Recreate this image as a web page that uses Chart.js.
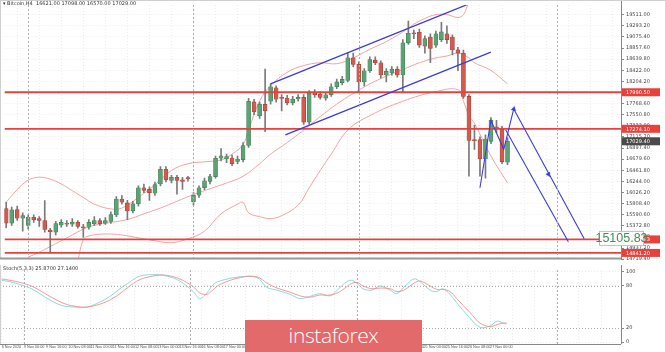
<!DOCTYPE html>
<html><head><meta charset="utf-8">
<script src="https://cdn.jsdelivr.net/npm/chart.js@4.4.0/dist/chart.umd.min.js"></script>
<style>
html,body{margin:0;padding:0;background:#fff;width:665px;height:352px;overflow:hidden}
#main{position:absolute;left:0;top:0}
#stoch{position:absolute;left:0;top:265px}
#logo{position:absolute;left:245px;top:320px;width:177px;height:32px;background:#e26a6a;color:#fff;font:300 21px "Open Sans",sans-serif;line-height:31px;text-align:center;letter-spacing:-0.4px}
</style></head><body>
<canvas id="main" width="665" height="264"></canvas>
<canvas id="stoch" width="665" height="87"></canvas>
<div id="logo">instaforex</div>
<script>
// ---------- DATA ----------
const opens  = [15708,15426,15690,15520,15382,15539,15514,15476,15288,15250,15388,15426,15407,15439,15350,15344,15414,15476,15426,15458,15584,15897,15822,15665,15803,16118,16086,16010,16193,16482,16263,16325,16274,16306,15848,15972,16118,16244,16338,16697,16683,16702,16633,16670,16947,17802,17532,17753,17815,18079,17877,17877,17783,17858,17890,17406,17990,17953,17877,17941,18098,18179,18224,18664,18537,18193,18413,18620,18569,18330,18368,18443,18330,18960,19148,19167,18896,19073,18915,19022,19135,19073,18820,18758,17909,17047,17061,16683,17029,17300,17262,16621];
const highs  = [15835,15740,15759,15627,15590,15590,15552,15867,15325,15458,15495,15476,15514,15476,15401,15495,15552,15514,15533,15646,15948,15967,15872,15854,16155,16193,16137,16231,16533,16533,16363,16363,16325,16344,16023,16155,16306,16382,16740,16885,16778,16759,16740,17004,17872,17853,17796,18443,18154,18117,17947,17928,17909,17947,17947,18022,18041,18004,17985,18154,18249,18305,18758,18758,18588,18456,18683,18683,18607,18456,18494,18494,19022,19386,19211,19230,19097,19135,19192,19362,19292,19116,18871,18815,17947,17344,17117,17155,17494,17438,17325,17098];
const lows   = [15331,15382,15476,15269,15307,15439,15363,15250,14835,15194,15344,15363,15363,15325,15143,15307,15382,15382,15401,15420,15552,15797,15495,15627,15759,16023,15872,15967,16155,16231,16212,15991,16086,16250,15778,15929,16080,16193,16306,16646,16608,16551,16589,16627,16910,17551,17476,17217,17758,17796,17626,17740,17740,17815,17362,17362,17890,17853,17834,17909,18060,18136,18193,18494,18004,18117,18381,18532,18268,18193,18324,18287,18004,18928,19041,18871,18758,18569,18871,18984,18947,18720,18413,17872,16344,16872,16344,16306,16985,17193,16589,16570];
const closes = [15426,15684,15520,15571,15539,15490,15476,15301,15256,15414,15439,15407,15444,15363,15331,15439,15476,15414,15476,15595,15897,15835,15665,15803,16118,16067,16023,16180,16482,16274,16325,16263,16244,16297,15972,16118,16255,16338,16697,16746,16731,16589,16683,16947,17815,17608,17758,17626,18098,17853,17872,17783,17858,17890,17406,17972,17941,17890,17941,18098,18193,18243,18664,18537,18193,18413,18632,18569,18330,18400,18443,18330,18960,19148,19135,18915,19041,18852,19135,19173,19022,18820,18758,17909,17047,17042,16683,17074,17438,17291,16632,17029];

const bbUpIdx  = [0,2,4,6,8,10,12,14,16,19,21,24,27,30,33,36,39,41,43,44,46,48,51,54,57,60,63,66,69,72,74,76,78,80,82,83,84,86,88,91];
const bbUpper  = [15835,16080,16268,16325,16287,16193,16061,15929,15797,15703,15721,15929,16174,16457,16589,16627,16664,16778,16966,17249,17815,18117,18381,18513,18569,18550,18664,18833,18984,19173,19324,19437,19512,19512,19456,19512,19739,19984,20078,20116];
const bbMidIdx = [4,6,8,10,12,14,16,19,22,25,28,31,34,37,40,43,46,48,51,54,57,60,63,66,69,72,75,78,80,82,84,85,88,91];
const bbMid    = [14760,14854,14967,15080,15193,15307,15382,15439,15495,15608,15721,15854,15986,16099,16212,16344,16589,16778,17004,17249,17513,17758,17966,18154,18305,18437,18569,18664,18701,18758,18664,18569,18418,18154];
const bbLowIdx = [13,14,15,18,21,24,27,30,33,36,39,42,43,44,46,48,50,53,55,57,59,62,66,72,78,82,83,84,85,88,91];
const bbLower  = [14684,15099,15175,15212,15193,15137,15080,15043,15118,15269,15608,15797,15835,15627,15552,15514,15571,15778,16118,16457,16778,17249,17532,17815,18004,18041,17815,17532,17381,16740,16212];

const stochIdx    = [0,1.5,3.3,5.6,8.7,10.9,13.2,15.4,17.7,19.5,21.3,22.6,24.9,28,29.8,32.1,34.5,35.7,37,38,39.3,43,46,47.8,49.6,52,53.7,55.5,57.3,59.2,61,62.7,64,65.1,66.7,68.2,70,71.2,72.7,74.3,75.4,77.2,78.4,79.5,80.8,82,84.4,86.2,88,89.3,90.3,91];
const stochMain   = [88,86,82,75,60,52,50,50,57,65,76,83,94,96,94,87,72,62,70,81,87,93,92,78,74,68,62,65,69,66,78,88,84,76,74,80,74,69,80,90,86,74,72,76,68,56,34,21,23,30,27,25.87];
const stochSignal = [90,88,85,79,65,56,51,50,54,60,69,77,89,95,95,90,79,70,68,74,82,92,93,84,77,71,66,64,67,67,72,82,85,80,76,77,76,72,75,84,87,80,75,75,72,62,42,27,22,25,27,27.14];

const levels      = [17990.5,17274.1,15105.83,14841.2];
const levelLabels = ["17990.50","17274.10","15105.83","14841.20"];
const currentPrice = 17029.40;

const channelUpper = [[47.98,18154],[86,19810]];
const channelLower = [[50.68,17155],[87.98,18777]];
const zigzag       = [[86.0,16118],[87.98,17438],[90.32,16872],[92.13,17664]];
const arrowA       = [[92.13,17664],[104.92,15118]];
const arrowB       = [[90.68,17249],[102.04,15061]];
const arrowHeads   = [[92.13,17664,13],[98.43,16382,152]];

const yTicks = Array.from({length:23},(_,n)=>+(14719.4+217.8*n).toFixed(2));
const xTickIdx    = [0,4,8,12,16,20,24,28,32,36,40,44,48,52,56,60,64,68,72,76,80,84,88];
const xTickLabels = ["6 Nov 2020","9 Nov 00:00","9 Nov 16:00","10 Nov 08:00","11 Nov 00:00","11 Nov 16:00","12 Nov 08:00","13 Nov 00:00","13 Nov 16:00","16 Nov 08:00","17 Nov 00:00","17 Nov 16:00","18 Nov 08:00","19 Nov 00:00","19 Nov 16:00","20 Nov 08:00","23 Nov 00:00","23 Nov 16:00","24 Nov 08:00","25 Nov 00:00","25 Nov 16:00","26 Nov 08:00","27 Nov 00:00"];
const separators = [4,34,64,100];

// ---------- CHARTS ----------
const XMIN=-0.306, XMAX=111.6;
const GREEN='#5aa374', GREEN_B='#3e7f55', RED='#d25a4e', RED_B='#a83e34';
const BLUE='#3c3cdc', PINK='#f2a3a3';
const FONT='"DejaVu Sans", sans-serif';
const idx = opens.map((_,i)=>i);
const isUp = idx.map(i=>closes[i]>=opens[i]);
const pts = (a)=>a.map(p=>({x:p[0],y:p[1]}));
const zip = (ks,vs)=>ks.map((k,j)=>({x:k,y:vs[j]}));
const lineDs = (data,color,w,extra)=>Object.assign({type:'line',data,borderColor:color,borderWidth:w,pointRadius:0,tension:0,fill:false},extra||{});

const gridTicks = [];
for(let k=0;k<=XMAX;k+=4) gridTicks.push(k);

const overlayMain = {
  id:'overlayMain',
  afterDraw(chart){
    const {ctx,chartArea:a,scales:{x,y}}=chart;
    ctx.save();
    ctx.strokeStyle='#b0b0b0'; ctx.setLineDash([2,2]); ctx.lineWidth=1;
    separators.forEach(k=>{const px=Math.round(x.getPixelForValue(k))+0.5;ctx.beginPath();ctx.moveTo(px,a.top);ctx.lineTo(px,a.bottom);ctx.stroke();});
    ctx.setLineDash([]);
    ctx.strokeStyle='#888'; ctx.beginPath(); ctx.moveTo(a.right+0.5,0); ctx.lineTo(a.right+0.5,a.bottom); ctx.stroke();
    ctx.strokeStyle='#d0d0d0'; ctx.beginPath(); ctx.moveTo(0.5,0); ctx.lineTo(0.5,a.bottom); ctx.moveTo(0,0.5); ctx.lineTo(665,0.5); ctx.stroke();
    ctx.strokeStyle='#999'; ctx.lineWidth=2; ctx.beginPath(); ctx.moveTo(0,a.bottom-0.5); ctx.lineTo(a.right,a.bottom-0.5); ctx.stroke();
    ctx.font='5px '+FONT; ctx.textBaseline='middle';
    levels.forEach((v,i)=>{const py=y.getPixelForValue(v);ctx.fillStyle='#e8413c';ctx.fillRect(a.right+1,py-4,38,8);ctx.fillStyle='#fff';ctx.fillText(levelLabels[i],a.right+5,py+0.5);});
    const cp=y.getPixelForValue(currentPrice);
    ctx.fillStyle='#4a4a4a';ctx.fillRect(a.right+1,cp-4,38,8);ctx.fillStyle='#fff';ctx.fillText(currentPrice.toFixed(2),a.right+5,cp+0.5);
    const gy=y.getPixelForValue(levels[2]);
    ctx.fillStyle='rgba(255,255,255,0.95)';ctx.fillRect(a.right-22,gy-8.5,45,15);
    ctx.strokeStyle='#9fd3b0';ctx.lineWidth=1;ctx.strokeRect(a.right-21.5,gy-8,44,14);
    ctx.fillStyle='#3f8f5e';ctx.font='12.5px "Liberation Sans", sans-serif';ctx.textAlign='center';ctx.fillText(levelLabels[2],a.right+0.5,gy-0.5);
    ctx.textAlign='left';ctx.font='5px '+FONT;ctx.fillStyle='#333';
    ctx.fillText('\u25BE Bitcoin,H4  '+opens[opens.length-1].toFixed(2)+' '+highs[highs.length-1].toFixed(2)+' '+lows[lows.length-1].toFixed(2)+' '+closes[closes.length-1].toFixed(2),3,4);
    ctx.restore();
  }
};

new Chart(document.getElementById('main'),{
  type:'bar',
  data:{datasets:[
    lineDs(zip(bbUpIdx,bbUpper),PINK,1,{tension:0.4,order:6}),
    lineDs(zip(bbMidIdx,bbMid),PINK,1,{tension:0.4,order:6}),
    lineDs(zip(bbLowIdx,bbLower),PINK,1,{tension:0.4,order:6}),
    {type:'bar',data:idx.map(i=>({x:i,y:[lows[i],highs[i]]})),backgroundColor:'#7a7a7a',barThickness:1,grouped:false,order:5},
    {type:'bar',data:idx.map(i=>({x:i,y:[Math.min(opens[i],closes[i]),Math.max(opens[i],closes[i])]})),
      backgroundColor:idx.map(i=>isUp[i]?GREEN:RED),borderColor:idx.map(i=>isUp[i]?GREEN_B:RED_B),borderWidth:0.6,borderSkipped:false,barThickness:4,minBarLength:1,grouped:false,order:4},
    ...levels.map(v=>lineDs([{x:XMIN,y:v},{x:XMAX,y:v}],'#e8413c',1.8,{order:2})),
    lineDs(pts(channelUpper),BLUE,1.3,{order:1}),
    lineDs(pts(channelLower),BLUE,1.3,{order:1}),
    lineDs(pts(zigzag),BLUE,1.1,{order:1}),
    lineDs(pts(arrowA),BLUE,1.1,{order:1}),
    lineDs(pts(arrowB),BLUE,1.1,{order:1}),
    {type:'line',data:pts(arrowHeads),showLine:false,pointStyle:'triangle',pointRadius:2.6,
      rotation:arrowHeads.map(p=>p[2]),backgroundColor:BLUE,borderColor:BLUE,borderWidth:0.5,order:0}
  ]},
  options:{
    responsive:false,animation:false,devicePixelRatio:1,
    layout:{padding:0},
    plugins:{legend:{display:false},tooltip:{enabled:false}},
    scales:{
      x:{type:'linear',min:XMIN,max:XMAX,offset:false,
         afterBuildTicks:ax=>{ax.ticks=gridTicks.map(v=>({value:v}));},
         ticks:{display:false},grid:{color:'#ececec',drawTicks:false},border:{display:false,dash:[1,2]},
         afterFit:ax=>{ax.height=0;}},
      y:{position:'right',min:14722,max:19701,
         afterBuildTicks:ax=>{ax.ticks=yTicks.map(v=>({value:v}));},
         ticks:{font:{size:5,family:FONT},color:'#444',padding:2,callback:v=>v.toFixed(2)},
         grid:{color:'#ececec',tickLength:3,tickColor:'#888'},border:{display:false,dash:[1,2]},
         afterFit:ax=>{ax.width=44;}}
    }
  },
  plugins:[overlayMain]
});

const overlayStoch = {
  id:'overlayStoch',
  afterDraw(chart){
    const {ctx,chartArea:a,scales:{x,y}}=chart;
    ctx.save();
    ctx.strokeStyle='#b0b0b0'; ctx.setLineDash([2,2]); ctx.lineWidth=1;
    separators.forEach(k=>{const px=Math.round(x.getPixelForValue(k))+0.5;ctx.beginPath();ctx.moveTo(px,a.top);ctx.lineTo(px,a.bottom);ctx.stroke();});
    ctx.setLineDash([1,2]); ctx.strokeStyle='#aaa';
    [20,80].forEach(v=>{const py=Math.round(y.getPixelForValue(v))+0.5;ctx.beginPath();ctx.moveTo(a.left,py);ctx.lineTo(a.right,py);ctx.stroke();});
    ctx.setLineDash([]);
    ctx.strokeStyle='#888'; ctx.beginPath(); ctx.moveTo(a.right+0.5,0); ctx.lineTo(a.right+0.5,a.bottom); ctx.moveTo(0,a.bottom+0.5); ctx.lineTo(a.right,a.bottom+0.5); ctx.stroke();
    ctx.strokeStyle='#d0d0d0'; ctx.beginPath(); ctx.moveTo(0.5,0); ctx.lineTo(0.5,a.bottom); ctx.stroke();
    ctx.font='5px '+FONT; ctx.fillStyle='#333'; ctx.textBaseline='middle';
    ctx.fillText('Stoch(5,3,3) '+stochMain[stochMain.length-1].toFixed(4)+' '+stochSignal[stochSignal.length-1].toFixed(4),3,4);
    ctx.restore();
  }
};

new Chart(document.getElementById('stoch'),{
  type:'line',
  data:{datasets:[
    lineDs(zip(stochIdx,stochSignal),'#ef8f8f',0.9,{tension:0.35}),
    lineDs(zip(stochIdx,stochMain),'#7fd6d6',0.9,{tension:0.35})
  ]},
  options:{
    responsive:false,animation:false,devicePixelRatio:1,
    layout:{padding:0},
    plugins:{legend:{display:false},tooltip:{enabled:false}},
    scales:{
      x:{type:'linear',min:XMIN,max:XMAX,offset:false,
         afterBuildTicks:ax=>{ax.ticks=gridTicks.map(v=>({value:v}));},
         ticks:{font:{size:3.8,family:'"Liberation Sans", sans-serif'},color:'#555',padding:1,align:'start',maxRotation:0,autoSkip:false,
           callback:v=>{const j=xTickIdx.indexOf(v);return j>=0?xTickLabels[j]:'';}},
         grid:{color:'#ececec',drawTicks:false},border:{display:false,dash:[1,2]},
         afterFit:ax=>{ax.height=8;}},
      y:{position:'right',min:-2.67,max:102.67,
         afterBuildTicks:ax=>{ax.ticks=[0,20,80,100].map(v=>({value:v}));},
         ticks:{font:{size:5,family:FONT},color:'#444',padding:2},
         grid:{color:'#ececec',tickLength:3,tickColor:'#888'},border:{display:false,dash:[1,2]},
         afterFit:ax=>{ax.width=44;}}
    }
  },
  plugins:[overlayStoch]
});
</script>
</body></html>
